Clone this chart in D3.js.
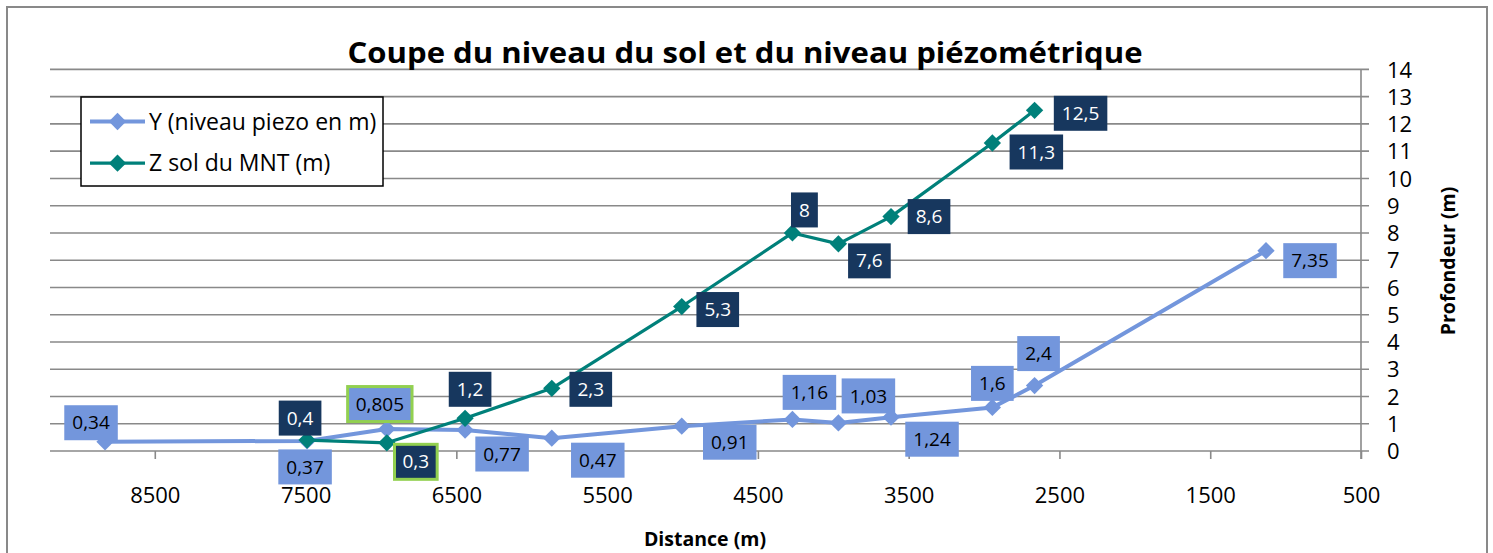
<!DOCTYPE html>
<html><head><meta charset="utf-8">
<script src="https://cdn.jsdelivr.net/npm/d3@7"></script>
<style>body{margin:0;background:#fff}svg{display:block}text{font-family:"Open Sans",sans-serif}</style>
</head><body>
<svg id="c" width="1493" height="553"></svg>
<script>
// ---- data ----
const title = "Coupe du niveau du sol et du niveau piézométrique";
const seriesNames = ["Y (niveau piezo en m)", "Z sol du MNT (m)"];
const piezoX = [8830, 7490, 6961, 6442, 5867, 5005, 4271, 3966, 3617, 2945, 2665, 1130];
const piezoY = [0.34, 0.37, 0.805, 0.77, 0.47, 0.91, 1.16, 1.03, 1.24, 1.6, 2.4, 7.35];
const solX = [7490, 6961, 6442, 5867, 5005, 4271, 3966, 3617, 2945, 2665];
const solY = [0.4, 0.3, 1.2, 2.3, 5.3, 8, 7.6, 8.6, 11.3, 12.5];
const xTicks = [8500, 7500, 6500, 5500, 4500, 3500, 2500, 1500, 500];
const yTicks = [0,1,2,3,4,5,6,7,8,9,10,11,12,13,14];
const xTitle = "Distance (m)";
const yTitle = "Profondeur (m)";
// label layout (offsets of label box centre from point)
const piezoLabelOffsets = [[-14,-19],[-2,26],[-7,-25],[37,24],[46,22],[48,16],[17,-27],[30,-27],[41,22],[0,-24],[4,-32],[44,10]];
const solLabelOffsets = [[-7,-22],[29,19],[5,-29],[39,1],[36,3],[12,-23],[31,17],[38,0],[44,9],[46,3]];
const highlighted = {piezo:[2], sol:[1]};

(function(){
const fmt = v => String(v).replace(".", ",");

const svg = d3.select("#c");
const pL = 50, pR = 1361, pT = 69.4, pB = 451;
const x = d3.scaleLinear().domain([9195, 500]).range([pL, pR]);
const y = d3.scaleLinear().domain([0, 14]).range([pB, pT]);

const BLUE = "#7396dc", TEAL = "#00807a", NAVY = "#17375e", GRID = "#898989";

// outer border
svg.append("rect").attr("x",7).attr("y",7).attr("width",1480).attr("height",560)
  .attr("fill","#fff").attr("stroke","#898989").attr("stroke-width",2);

// gridlines + right axis
const yAxis = d3.axisRight(y).tickValues(yTicks).tickSize(0).tickFormat(d=>d);
const gy = svg.append("g");
gy.selectAll("line.grid").data(yTicks).join("line")
  .attr("x1", pL).attr("x2", pR + 8)
  .attr("y1", d=>y(d)).attr("y2", d=>y(d))
  .attr("stroke", GRID).attr("stroke-width", 1.6);
const ga = svg.append("g").attr("transform", `translate(${pR},0)`).call(yAxis);
ga.select(".domain").remove();
ga.selectAll("text").attr("x", 26).attr("fill","#000").style("font-size","22px").attr("text-anchor","start").attr("dy","0.35em");
svg.append("line").attr("x1", pR).attr("x2", pR).attr("y1", pT).attr("y2", pB + 8)
  .attr("stroke", GRID).attr("stroke-width", 1.6);

// x axis
const xAxis = d3.axisBottom(x).tickValues(xTicks).tickSize(8).tickFormat(d=>d);
const gx = svg.append("g").attr("transform", `translate(0,${pB})`).call(xAxis);
gx.select(".domain").remove();
gx.selectAll(".tick line").attr("stroke", GRID).attr("stroke-width", 1.6);
gx.selectAll("text").attr("y", 44).attr("dy","0.35em").attr("fill","#000").style("font-size","22px");

// titles
svg.append("text").attr("x", 745).attr("y", 63).attr("text-anchor","middle")
  .style("font-size","29px").style("font-weight","bold")
  .attr("textLength", 795).attr("lengthAdjust","spacingAndGlyphs").text(title);
svg.append("text").attr("x", 705).attr("y", 546).attr("text-anchor","middle")
  .style("font-size","19.5px").style("font-weight","bold").text(xTitle);
svg.append("text").attr("transform","translate(1455,261) rotate(-90)").attr("text-anchor","middle")
  .style("font-size","19.5px").style("font-weight","bold").text(yTitle);

// series
const diamond = d3.symbol().type(d3.symbolSquare).size(150);
function drawSeries(xs, ys, color, width) {
  const pts = xs.map((v,i)=>[x(v), y(ys[i])]);
  svg.append("path").attr("d", d3.line()(pts)).attr("fill","none")
    .attr("stroke", color).attr("stroke-width", width).attr("stroke-linejoin","round");
  svg.append("g").selectAll("path").data(pts).join("path")
    .attr("d", diamond).attr("transform", d=>`translate(${d[0]},${d[1]}) rotate(45)`)
    .attr("fill", color);
  return pts;
}
const pPts = drawSeries(piezoX, piezoY, BLUE, 4);
const sPts = drawSeries(solX, solY, TEAL, 3.2);

// labels
function drawLabels(pts, vals, offs, fill, tcol, hl) {
  const g = svg.append("g");
  pts.forEach((p,i)=>{
    const cx = p[0] + offs[i][0], cy = p[1] + offs[i][1];
    const gg = g.append("g");
    const t = gg.append("text").attr("x", cx).attr("y", cy).attr("dy","0.35em")
      .attr("text-anchor","middle").attr("fill", tcol).style("font-size","19px").text(fmt(vals[i]));
    const w = t.node().getComputedTextLength() + 16, h = 35;
    const isH = hl.includes(i);
    gg.insert("rect","text").attr("x", cx - w/2).attr("y", cy - h/2).attr("width", w).attr("height", h)
      .attr("fill", fill).attr("stroke", isH ? "#92d050" : "none").attr("stroke-width", isH ? 3 : 0);
  });
}
drawLabels(pPts, piezoY, piezoLabelOffsets, BLUE, "#000", highlighted.piezo);
drawLabels(sPts, solY, solLabelOffsets, NAVY, "#fff", highlighted.sol);

// legend
const lg = svg.append("g");
lg.append("rect").attr("x",81).attr("y",97).attr("width",302).attr("height",89)
  .attr("fill","#fff").attr("stroke","#000").attr("stroke-width",1.5);
[[BLUE,4],[TEAL,3.2]].forEach((c,i)=>{
  const yy = 121.5 + i*41.7;
  lg.append("line").attr("x1",90).attr("x2",145).attr("y1",yy).attr("y2",yy).attr("stroke",c[0]).attr("stroke-width",c[1]);
  lg.append("path").attr("d", diamond).attr("transform",`translate(117.5,${yy}) rotate(45)`).attr("fill",c[0]);
  lg.append("text").attr("x",149).attr("y",yy).attr("dy","0.35em").style("font-size","23px").attr("fill","#000").text(seriesNames[i]);
});
})();
</script>
</body></html>
